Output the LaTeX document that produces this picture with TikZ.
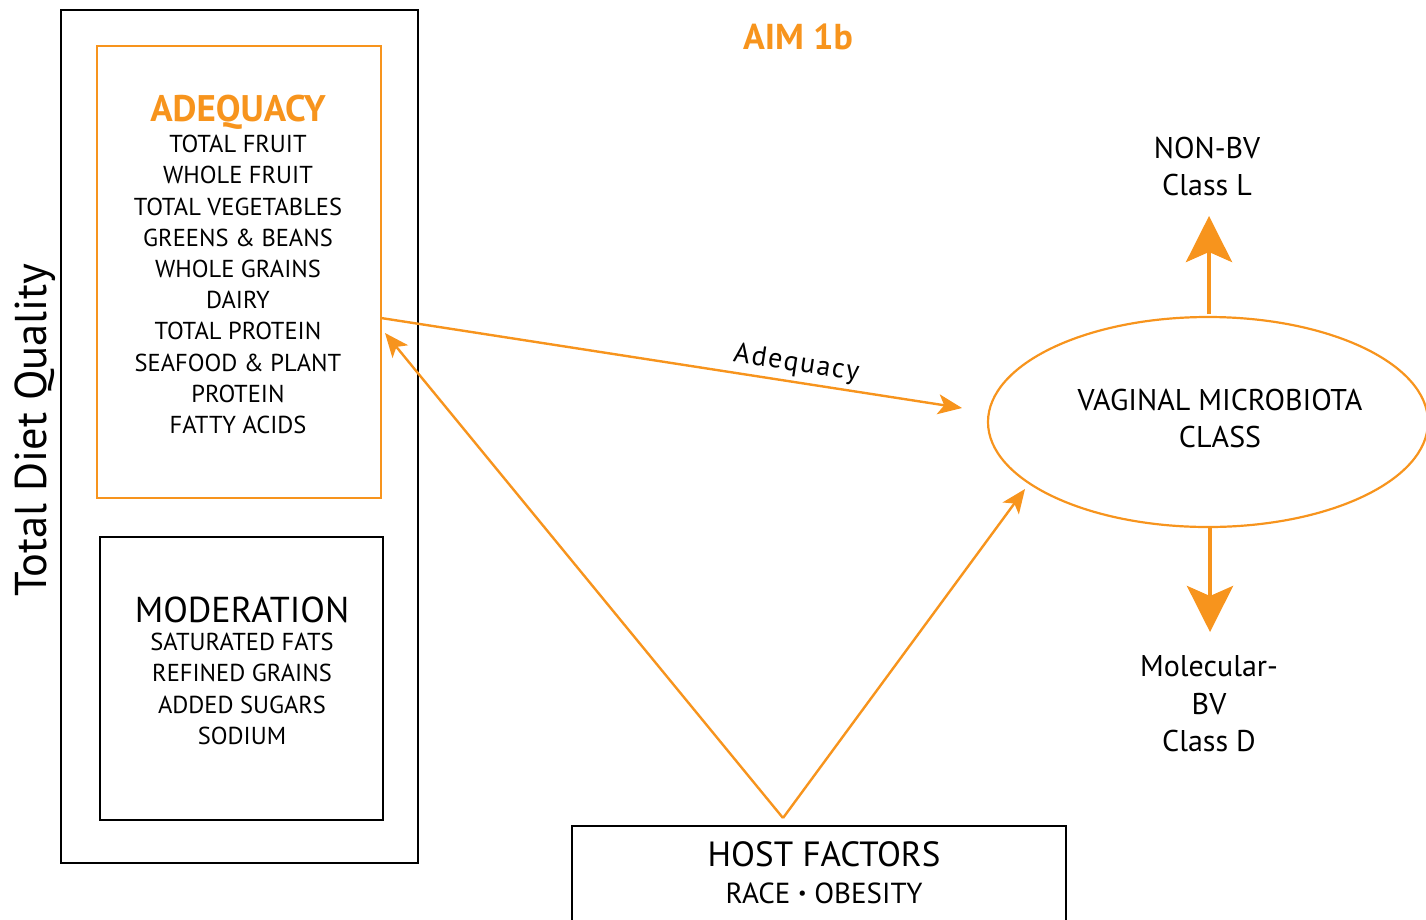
\documentclass[tikz,border=0pt]{standalone}
\usepackage{fontspec}
\setmainfont{PT Sans}
\usetikzlibrary{arrows.meta}
\definecolor{aimorange}{RGB}{247,148,29}
\begin{document}
\begin{tikzpicture}[x=1pt,y=-1pt,
  frame/.style={draw=black,line width=2pt},
  link/.style={draw=aimorange,line width=2.4pt,-{Stealth[length=24pt,width=20pt,inset=6pt]}},
  outcome/.style={draw=aimorange,line width=4.5pt,-{Stealth[length=46pt,width=46pt,inset=10pt]}},
  item/.style={font=\fontsize{24.5}{31.2}\selectfont,align=center,inner sep=0pt},
  big/.style={font=\fontsize{36}{40}\selectfont,inner sep=0pt}]
\useasboundingbox (0,0) rectangle (1426,919);
\begin{scope}
\clip (0,0) rectangle (1426,919);
% left column: diet quality panel
\draw[frame] (61,10) rectangle (418,863);
\draw[draw=aimorange,line width=2pt] (97,46) rectangle (381,498);
\draw[frame] (100,537) rectangle (383,820);
\node[rotate=90,font=\fontsize{44.5}{48}\selectfont,inner sep=0pt] (tdq) at (35,430) {Total Diet Quality};
\node[big,text=aimorange,font=\fontsize{37}{40}\selectfont\bfseries] (adeq) at (238,112) {ADEQUACY};
\node[item,anchor=north] (adeqlist) at (238,135) {TOTAL FRUIT\\WHOLE FRUIT\\TOTAL VEGETABLES\\GREENS \& BEANS\\WHOLE GRAINS\\DAIRY\\TOTAL PROTEIN\\SEAFOOD \& PLANT\\PROTEIN\\FATTY ACIDS};
\node[big] (moder) at (242,610) {MODERATION};
\node[item,anchor=north] (moderlist) at (242,633) {SATURATED FATS\\REFINED GRAINS\\ADDED SUGARS\\SODIUM};
% title
\node[text=aimorange,font=\fontsize{36}{40}\selectfont\bfseries,inner sep=0pt] (aim) at (798,37) {AIM 1b};
% microbiota
\draw[draw=aimorange,line width=2.2pt] (1208,422) ellipse [x radius=220, y radius=105];
\node[font=\fontsize{30}{37}\selectfont,align=center,inner sep=0pt] (vmc) at (1220,418) {VAGINAL MICROBIOTA\\CLASS};
\node[font=\fontsize{30}{37}\selectfont,align=center,inner sep=0pt] (nonbv) at (1207,166) {NON-BV\\Class L};
\node[font=\fontsize{30}{37.5}\selectfont,align=center,inner sep=0pt] (molbv) at (1209,704) {Molecular-\\BV\\Class D};
% host factors
\draw[frame] (572,826) rectangle (1066,940);
\node[font=\fontsize{35}{40}\selectfont,inner sep=0pt] (host) at (824,854) {HOST FACTORS};
\node[font=\fontsize{29}{34}\selectfont,inner sep=0pt] (race) at (824,893) {RACE \raisebox{0.25ex}{\scalebox{0.65}{\textbullet}} OBESITY};
\end{scope}
% connector end points
\coordinate (adqout) at (381,318);
\coordinate (vmcin) at (962,408);
\coordinate (apex) at (783,818);
\coordinate (adqin) at (385,333);
\coordinate (vmcin2) at (1025,489);
\coordinate (vmctop) at (1209,314);
\coordinate (nonbvtip) at (1209,216);
\coordinate (vmcbot) at (1210,528);
\coordinate (molbvtip) at (1210,632);
\draw[link] (adqout) -- node[pos=0.71,above=4pt,sloped,font=\fontsize{28}{30}\selectfont\addfontfeatures{LetterSpace=6},inner sep=0pt] {Adequacy} (vmcin);
\draw[link] (apex) -- (adqin);
\draw[link] (apex) -- (vmcin2);
\draw[outcome] (vmctop) -- (nonbvtip);
\draw[outcome] (vmcbot) -- (molbvtip);
\end{tikzpicture}
\end{document}
